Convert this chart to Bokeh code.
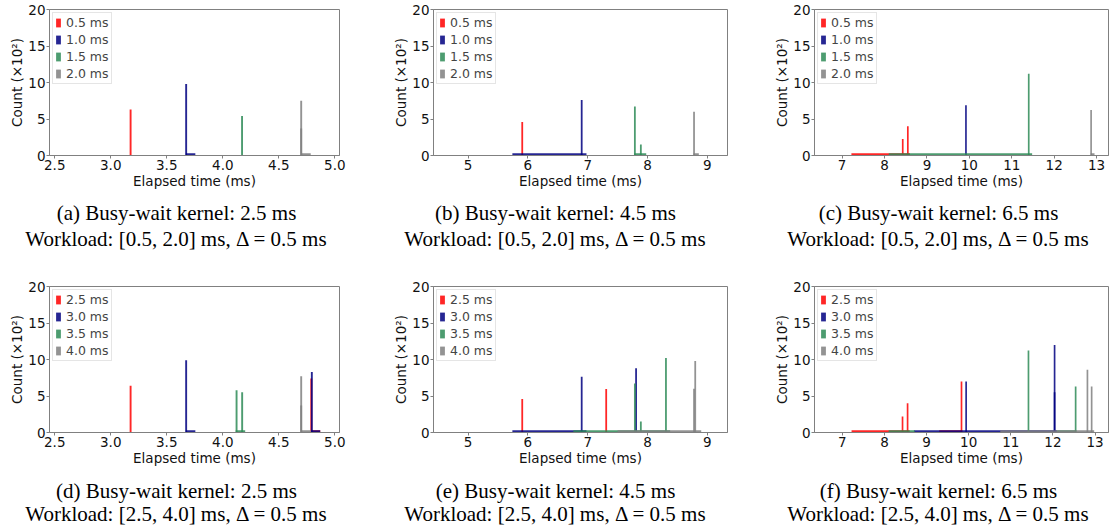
from bokeh.plotting import figure
from bokeh.layouts import column, row
from bokeh.models import (Range1d, FixedTicker, PrintfTickFormatter, Legend,
                          LegendItem, ColumnDataSource)
from bokeh.embed import file_html
from bokeh.resources import INLINE
from bokeh.core.properties import value

# ---------------- data ----------------
COLORS = ["#ff0000", "#000080", "#2e8b57", "#808080"]
LABELS_TOP = ["0.5 ms", "1.0 ms", "1.5 ms", "2.0 ms"]
LABELS_BOTTOM = ["2.5 ms", "3.0 ms", "3.5 ms", "4.0 ms"]
Y_TICKS = [0, 5, 10, 15, 20]
FLOOR_COUNT = 0.3           # x10^2, the low tail level of the histograms

X_TICKS_A = [2.5, 3.0, 3.5, 4.0, 4.5, 5.0]
X_TICKS_B = [5, 6, 7, 8, 9]
X_TICKS_C = [7, 8, 9, 10, 11, 12, 13]

X_RANGE_A = (2.453, 5.042)
X_RANGE_B = (4.42, 9.34)
X_RANGE_C = (6.35, 13.28)
X_RANGE_F = (6.34, 13.32)

BIN_WIDTH_A = 0.017
BIN_WIDTH_B = 0.03
BIN_WIDTH_C = 0.04

# (a) kernel 2.5 ms, workload [0.5, 2.0]
A_SPIKE_X = [[3.177], [3.673], [4.172], [4.700, 4.700]]
A_SPIKE_Y = [[6.3], [9.8], [5.4], [7.5, 3.7]]
A_FLOOR = [[], [(3.67, 3.755)], [], [(4.70, 4.785)]]

# (b) kernel 4.5 ms
B_SPIKE_X = [[5.905], [6.90], [7.79, 7.89], [8.78]]
B_SPIKE_Y = [[4.6], [7.6], [6.7, 1.5], [6.0]]
B_FLOOR = [[], [(5.74, 6.98)], [(7.78, 7.98)], [(8.77, 8.86)]]

# (c) kernel 6.5 ms
C_SPIKE_X = [[8.43, 8.55], [9.92], [11.40], [12.87]]
C_SPIKE_Y = [[2.25, 4.0], [6.9], [11.2], [6.25]]
C_FLOOR = [[(7.22, 8.60)], [], [(8.10, 11.48)], [(12.86, 12.95)]]

# (d) kernel 2.5 ms, workload [2.5, 4.0]
D_SPIKE_X = [[3.177, 4.79], [3.673, 4.795], [4.123, 4.173], [4.700, 4.700]]
D_SPIKE_Y = [[6.4, 7.4], [9.9, 8.3], [5.8, 5.5], [7.7, 3.7]]
D_FLOOR = [[(4.79, 4.87)], [(3.67, 3.755), (4.79, 4.87)], [(4.115, 4.20)],
           [(4.70, 4.785)]]

# (e) kernel 4.5 ms
E_SPIKE_X = [[5.905, 7.31], [6.90, 7.81], [7.79, 7.89, 8.31], [8.78, 8.80]]
E_SPIKE_Y = [[4.6, 5.95], [7.65, 8.8], [6.7, 1.5, 10.2], [6.0, 9.8]]
E_FLOOR = [[], [(5.74, 6.98)], [(6.76, 8.38)], [(7.50, 8.90)]]

# (f) kernel 6.5 ms
F_SPIKE_X = [[8.43, 8.55, 9.83], [9.94, 12.04, 12.04], [11.42, 12.54],
             [12.82, 12.92]]
F_SPIKE_Y = [[2.2, 4.0, 7.0], [7.0, 12.0, 5.5], [11.25, 6.3], [8.6, 6.3]]
F_FLOOR = [[(7.22, 8.60), (9.30, 9.85)], [(8.70, 12.10)],
           [(8.10, 8.72), (12.10, 12.56)], [(10.75, 12.98)]]

CAPTIONS_1 = ["(a) Busy-wait kernel: 2.5 ms", "(b) Busy-wait kernel: 4.5 ms",
              "(c) Busy-wait kernel: 6.5 ms"]
CAPTIONS_2 = ["(d) Busy-wait kernel: 2.5 ms", "(e) Busy-wait kernel: 4.5 ms",
              "(f) Busy-wait kernel: 6.5 ms"]
WORKLOAD_1 = "Workload: [0.5, 2.0] ms, \u0394 = 0.5 ms"
WORKLOAD_2 = "Workload: [2.5, 4.0] ms, \u0394 = 0.5 ms"

SANS = "DejaVu Sans"
SERIF = "Liberation Serif"
FRAME_H = 146
BOTTOM = 44


def make_panel(bl, fw, br, bt, xr, xticks, fmt, labels, sx, sy, floors, bw):
    p = figure(frame_width=fw, frame_height=FRAME_H, output_backend="svg",
               toolbar_location=None, x_range=Range1d(*xr),
               y_range=Range1d(0, 20), min_border_left=bl,
               min_border_right=br, min_border_top=bt,
               min_border_bottom=BOTTOM)
    p.grid.visible = False
    p.outline_line_color = "#808080"
    items = []
    for i in range(4):
        left, right, top = [], [], []
        for (a, b) in floors[i]:
            left.append(a); right.append(b); top.append(FLOOR_COUNT)
        for x, h in zip(sx[i], sy[i]):
            left.append(x - bw / 2); right.append(x + bw / 2); top.append(h)
        src = ColumnDataSource(dict(left=left, right=right, top=top,
                                    bottom=[0] * len(left)))
        r = p.quad(left="left", right="right", top="top", bottom="bottom",
                   source=src, fill_color=COLORS[i], fill_alpha=0.85,
                   line_color=None)
        items.append(LegendItem(label=labels[i], renderers=[r]))
    leg = Legend(items=items, location="top_left", margin=3, padding=2,
                 spacing=2, glyph_width=6, glyph_height=11, label_height=14,
                 label_standoff=5, label_text_font=SANS,
                 label_text_font_size="12.5px", border_line_color="#cccccc",
                 background_fill_alpha=0.85)
    p.add_layout(leg)
    p.xaxis.ticker = FixedTicker(ticks=xticks)
    p.xaxis.formatter = PrintfTickFormatter(format=fmt)
    p.yaxis.ticker = FixedTicker(ticks=Y_TICKS)
    p.xaxis.axis_label = "Elapsed time (ms)"
    p.yaxis.axis_label = "Count (\u00d710\u00b2)"
    for ax in (p.xaxis[0], p.yaxis[0]):
        ax.axis_line_color = "#808080"
        ax.major_tick_line_color = "#808080"
        ax.major_tick_out = 3
        ax.major_tick_in = 0
        ax.minor_tick_line_color = None
        ax.major_label_text_font = SANS
        ax.major_label_text_font_size = "13.5px"
        ax.major_label_text_color = "#111111"
        ax.axis_label_text_font = SANS
        ax.axis_label_text_font_size = "13.5px"
        ax.axis_label_text_font_style = "normal"
        ax.axis_label_text_color = "#111111"
        ax.major_label_standoff = 1
        ax.axis_label_standoff = 0
    return p


def make_captions(height, y1, y2, tops, bottom):
    p = figure(width=1109, height=height, output_backend="svg",
               toolbar_location=None, x_range=Range1d(0, 1109),
               y_range=Range1d(0, height), min_border=0,
               x_axis_location=None, y_axis_location=None)
    p.grid.visible = False
    p.outline_line_color = None
    xs = [176, 555, 938]
    src = ColumnDataSource(dict(x=xs * 2, y=[y1] * 3 + [y2] * 3,
                                t=list(tops) + [bottom] * 3))
    p.text(x="x", y="y", text="t", source=src, text_align="center",
           text_baseline="middle", text_font=value(SERIF),
           text_font_size="21px", text_color="black")
    return p


pa = make_panel(49, 290, 31, 9, X_RANGE_A, X_TICKS_A, "%.1f", LABELS_TOP,
                A_SPIKE_X, A_SPIKE_Y, A_FLOOR, BIN_WIDTH_A)
pb = make_panel(63, 294, 13, 9, X_RANGE_B, X_TICKS_B, "%d", LABELS_TOP,
                B_SPIKE_X, B_SPIKE_Y, B_FLOOR, BIN_WIDTH_B)
pc = make_panel(74, 294, 1, 9, X_RANGE_C, X_TICKS_C, "%d", LABELS_TOP,
                C_SPIKE_X, C_SPIKE_Y, C_FLOOR, BIN_WIDTH_C)
pd = make_panel(49, 290, 31, 31, X_RANGE_A, X_TICKS_A, "%.1f",
                LABELS_BOTTOM, D_SPIKE_X, D_SPIKE_Y, D_FLOOR, BIN_WIDTH_A)
pe = make_panel(63, 294, 13, 31, X_RANGE_B, X_TICKS_B, "%d",
                LABELS_BOTTOM, E_SPIKE_X, E_SPIKE_Y, E_FLOOR, BIN_WIDTH_B)
pf = make_panel(74, 294, 1, 31, X_RANGE_F, X_TICKS_C, "%d",
                LABELS_BOTTOM, F_SPIKE_X, F_SPIKE_Y, F_FLOOR, BIN_WIDTH_C)

cap1 = make_captions(56, 43, 17, CAPTIONS_1, WORKLOAD_1)
cap2 = make_captions(53, 39, 16, CAPTIONS_2, WORKLOAD_2)

layout = column(row(pa, pb, pc), cap1, row(pd, pe, pf), cap2)

with open("out.html", "w") as f:
    f.write(file_html(layout, INLINE))
